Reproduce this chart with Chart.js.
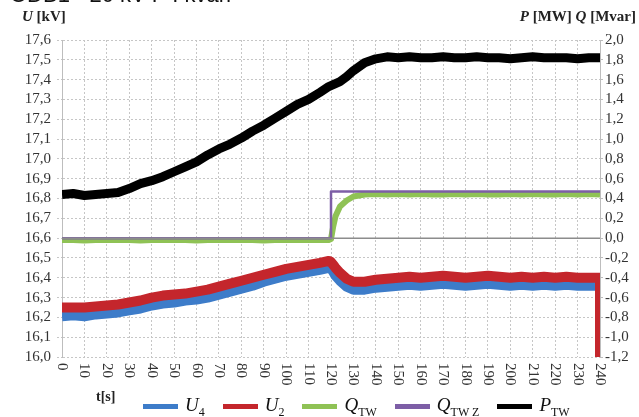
<!DOCTYPE html>
<html>
<head>
<meta charset="utf-8">
<script src="https://cdn.jsdelivr.net/npm/chart.js@4.4.1/dist/chart.umd.min.js"></script>
<style>
body{margin:0;background:#fff;overflow:hidden;}
#wrap{position:relative;width:639px;height:417px;overflow:hidden;}
#c{position:absolute;left:0;top:0;}
#top{position:absolute;left:10px;top:-18px;font:22px Arial,"Liberation Sans",sans-serif;color:#111;white-space:nowrap;}
.ttl{position:absolute;top:8px;font:bold 15px "Liberation Serif",serif;color:#222;white-space:nowrap;}
#tlab{position:absolute;left:96px;top:389px;font:bold 14px "Liberation Serif",serif;color:#222;}
#legend{position:absolute;left:143px;top:394px;display:flex;align-items:center;font:italic 19px "Liberation Serif",serif;color:#111;}
.item{display:flex;align-items:center;margin-right:18px;white-space:nowrap;}
.sw{width:35px;height:5px;margin-right:7px;}
sub{font-style:normal;font-size:12px;}
</style>
</head>
<body>
<div id="wrap">
<canvas id="c" width="639" height="417"></canvas>
<div id="top">ODB1 - 20 kV P I kvan</div>
<div class="ttl" style="left:22px"><i>U</i> [kV]</div>
<div class="ttl" style="right:3px"><i>P</i> [MW] <i>Q</i> [Mvar]</div>
<div id="tlab">t[s]</div>
<div id="legend"></div>
</div>
<script>
// time axis [s]
const time = [0,5,10,15,20,25,30,35,40,45,50,55,60,65,70,75,80,85,90,95,100,105,110,115,
  119,120,121,122,124,127,
  130,135,140,145,150,155,160,165,170,175,180,185,190,195,200,205,210,215,220,225,230,235,240];

// voltages [kV]
const u4 = [16.205,16.21,16.205,16.215,16.22,16.225,16.235,16.245,16.26,16.27,16.275,16.285,16.29,16.30,16.315,16.33,16.345,16.36,16.38,16.395,16.41,16.42,16.43,16.44,
  16.45,16.445,16.43,16.41,16.385,16.355,
  16.34,16.34,16.35,16.355,16.36,16.365,16.36,16.365,16.37,16.365,16.36,16.365,16.37,16.365,16.36,16.365,16.36,16.365,16.36,16.365,16.36,16.36,16.36];
const tU2 = [...time, 240];
const u2 = [16.25,16.25,16.25,16.255,16.26,16.265,16.275,16.285,16.30,16.31,16.315,16.32,16.33,16.34,16.355,16.37,16.385,16.40,16.415,16.43,16.445,16.455,16.465,16.475,
  16.485,16.48,16.465,16.45,16.425,16.395,
  16.38,16.38,16.39,16.395,16.40,16.405,16.40,16.405,16.41,16.405,16.40,16.405,16.41,16.405,16.40,16.405,16.40,16.405,16.40,16.405,16.40,16.40,16.40,
  16.0];

// reactive power [Mvar]
const qTW = [-0.02,-0.02,-0.025,-0.02,-0.02,-0.02,-0.02,-0.025,-0.02,-0.02,-0.02,-0.02,-0.025,-0.02,-0.02,-0.02,-0.02,-0.02,-0.025,-0.02,-0.02,-0.02,-0.02,-0.02,
  -0.02,-0.01,0.12,0.22,0.32,0.38,
  0.42,0.44,0.445,0.44,0.445,0.44,0.445,0.44,0.44,0.445,0.44,0.445,0.44,0.44,0.445,0.44,0.445,0.44,0.44,0.445,0.44,0.445,0.44];
const tZ = [0,120,120,240];
const qZ = [0,0,0.47,0.47];

// active power [MW]
const pTW = [0.44,0.45,0.43,0.44,0.45,0.46,0.50,0.55,0.58,0.62,0.67,0.72,0.77,0.84,0.90,0.95,1.01,1.08,1.14,1.21,1.28,1.35,1.40,1.47,
  1.53,1.54,1.55,1.56,1.58,1.63,
  1.69,1.77,1.81,1.83,1.82,1.83,1.82,1.82,1.83,1.82,1.82,1.83,1.82,1.82,1.81,1.82,1.83,1.82,1.82,1.82,1.81,1.82,1.82];

const names = ['U<sub>4</sub>','U<sub>2</sub>','Q<sub>TW</sub>','Q<sub>TW Z</sub>','P<sub>TW</sub>'];
const colors = ['#3d7cc9','#c4262c','#8fc255','#7d5ea6','#000000'];

function pts(xs, ys){ return xs.map((x,i)=>({x:x, y:ys[i]})); }
function comma(v){ return v.toFixed(1).replace('.',','); }

const tickFont = {family:'"Liberation Serif", serif', size:15};

const decor = {
  id:'decor',
  afterDatasetsDraw(chart){
    const {ctx, chartArea:a, scales} = chart;
    const y0 = scales.yR.getPixelForValue(0);
    ctx.save();
    ctx.strokeStyle = '#8c8c8c';
    ctx.lineWidth = 1.5;
    ctx.beginPath(); ctx.moveTo(a.left, y0); ctx.lineTo(a.right, y0); ctx.stroke();
    ctx.restore();
  },
  afterDraw(chart){
    const {ctx, scales, chartArea:a} = chart;
    const xs = scales.x;
    ctx.save();
    ctx.font = '15px "Liberation Serif", serif';
    ctx.fillStyle = '#333';
    ctx.textAlign = 'left';
    ctx.textBaseline = 'middle';
    xs.ticks.forEach(t=>{
      const x = xs.getPixelForValue(t.value);
      ctx.save();
      ctx.translate(x, a.bottom + 6);
      ctx.rotate(Math.PI/2);
      ctx.fillText(String(t.value), 0, 0);
      ctx.restore();
    });
    ctx.restore();
  }
};

new Chart(document.getElementById('c'), {
  type:'line',
  data:{datasets:[
    {label:'U4', data:pts(time,u4), borderColor:colors[0], borderWidth:10, yAxisID:'yL', order:5},
    {label:'U2', data:pts(tU2,u2), borderColor:colors[1], borderWidth:10, yAxisID:'yL', order:4},
    {label:'QTW', data:pts(time,qTW), borderColor:colors[2], borderWidth:6, yAxisID:'yR', order:3},
    {label:'QTW Z', data:pts(tZ,qZ), borderColor:colors[3], borderWidth:2.5, yAxisID:'yR', order:2},
    {label:'PTW', data:pts(time,pTW), borderColor:colors[4], borderWidth:9, yAxisID:'yR', order:1}
  ]},
  options:{
    responsive:false,
    animation:false,
    layout:{padding:{top:40, left:0, right:0, bottom:0}},
    elements:{point:{radius:0}, line:{tension:0, borderJoinStyle:'round'}},
    plugins:{legend:{display:false}, tooltip:{enabled:false}},
    scales:{
      x:{type:'linear', min:0, max:240,
        ticks:{stepSize:10, display:false, autoSkip:false},
        grid:{color:'#c6c6c6', drawTicks:false},
        border:{display:false, dash:[2,2]},
        afterFit(s){ s.height = 60; }},
      yL:{position:'left', min:16, max:17.6,
        ticks:{stepSize:0.1, autoSkip:false, callback:comma, font:tickFont, color:'#333', padding:6},
        grid:{color:'#c6c6c6', tickLength:5, tickBorderDash:[2,2]},
        border:{display:true, color:'#bdbdbd', dash:[2,2]},
        afterFit(s){ s.width = 62; }},
      yR:{position:'right', min:-1.2, max:2,
        ticks:{stepSize:0.2, autoSkip:false, callback:comma, font:tickFont, color:'#333', padding:2},
        grid:{drawOnChartArea:false, tickLength:3, color:'#bdbdbd'},
        border:{display:true, color:'#bdbdbd'},
        afterFit(s){ s.width = 39; }}
    }
  },
  plugins:[decor]
});

const lg = document.getElementById('legend');
names.forEach((n,i)=>{
  const it = document.createElement('div');
  it.className = 'item';
  it.innerHTML = '<span class="sw" style="background:'+colors[i]+'"></span><span>'+n+'</span>';
  lg.appendChild(it);
});
</script>
</body>
</html>
